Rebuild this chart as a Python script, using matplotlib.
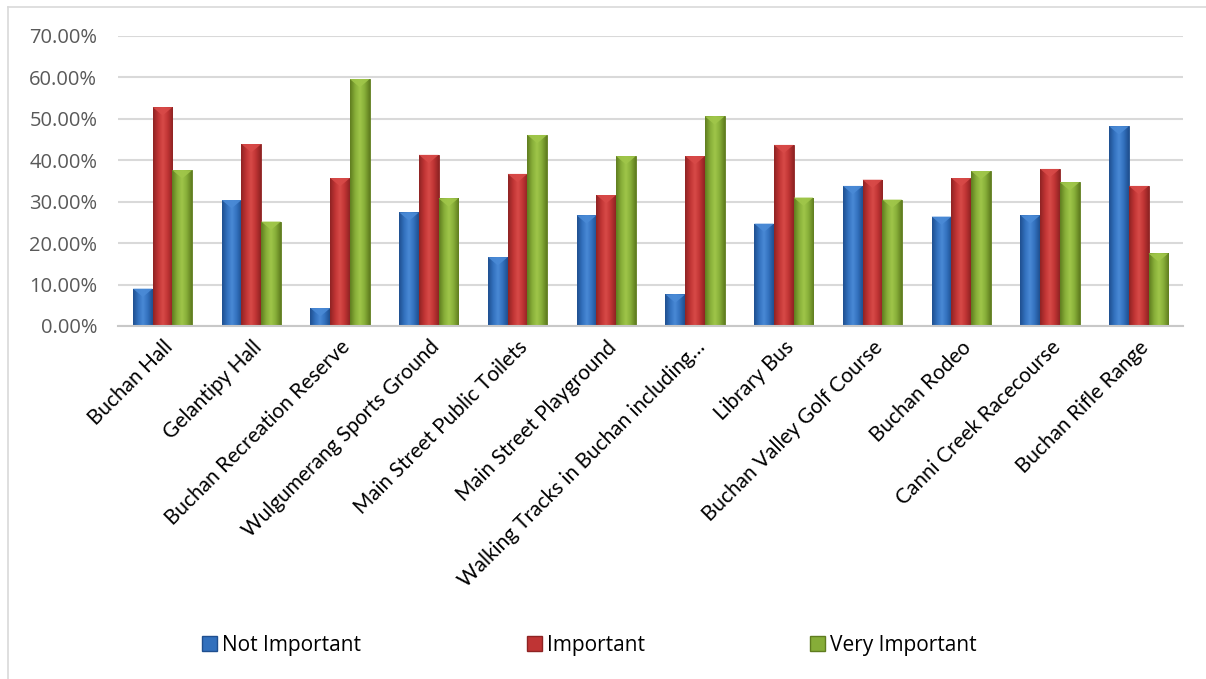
import numpy as np
import matplotlib
matplotlib.use('Agg')
import matplotlib.pyplot as plt
from matplotlib.colors import LinearSegmentedColormap
from matplotlib.ticker import PercentFormatter
from matplotlib.lines import Line2D

### Data
categories = ['Buchan Hall', 'Gelantipy Hall', 'Buchan Recreation Reserve', 'Wulgumerang Sports Ground',
              'Main Street Public Toilets', 'Main Street Playground', 'Walking Tracks in Buchan including\u2026',
              'Library Bus', 'Buchan Valley Golf Course', 'Buchan Rodeo', 'Canni Creek Racecourse', 'Buchan Rifle Range']
not_important = [9.0, 30.4, 4.3, 27.4, 16.6, 26.7, 7.6, 24.7, 33.8, 26.4, 26.7, 48.2]
important = [52.8, 43.9, 35.7, 41.3, 36.7, 31.6, 41.0, 43.7, 35.3, 35.7, 37.9, 33.8]
very_important = [37.6, 25.2, 59.6, 30.8, 46.1, 41.0, 50.6, 31.0, 30.5, 37.4, 34.7, 17.5]
series_names = ['Not Important', 'Important', 'Very Important']

# Colours: (dark edge, mid, light centre)
shades = {
	'Not Important': ('#1f4f8f', '#3270bd', '#4a8ad6'),
	'Important': ('#8e2323', '#bf3434', '#d84a48'),
	'Very Important': ('#5f7c1f', '#86ad38', '#a0c64a'),
}

plt.rcParams['font.family'] = ['Lato', 'DejaVu Sans']

fig = plt.figure(figsize=(12.06, 6.79), dpi=100)
ax = fig.add_axes([0.098, 0.52, 0.883, 0.427])

x = np.arange(len(categories))
width = 0.222
offsets = [-width, 0, width]
values = [not_important, important, very_important]

legend_handles = []
for name, vals, off in zip(series_names, values, offsets):
	dark, mid, light = shades[name]
	bars = ax.bar(x + off, vals, width, color=mid, edgecolor=dark, linewidth=0.6, zorder=2)
	# horizontal gradient inside each bar, clipped to the bar
	cmap = LinearSegmentedColormap.from_list(name, [dark, mid, light, mid, dark])
	grad = np.linspace(0, 1, 64).reshape(1, -1)
	for b in bars:
		bx, bw, bh = b.get_x(), b.get_width(), b.get_height()
		im = ax.imshow(grad, extent=[bx, bx + bw, 0, bh], cmap=cmap, aspect='auto', zorder=2.5,
					interpolation='bicubic')
		im.set_clip_path(b)
		# small bevel triangle on top
		tri_h = min(bh, 2.0)
		ax.fill([bx, bx + bw, bx + bw / 2], [bh, bh, bh - tri_h], color=light, alpha=0.9, zorder=3, lw=0)
	legend_handles.append(matplotlib.patches.Patch(facecolor=mid, edgecolor=dark, label=name))

ax.set_xlim(-0.5, len(categories) - 0.5)
ax.set_ylim(0, 70)
ax.set_yticks(np.arange(0, 71, 10))
ax.yaxis.set_major_formatter(PercentFormatter(decimals=2))
ax.yaxis.grid(True, color='#d9d9d9', linewidth=1.5, zorder=0)
ax.set_axisbelow(True)
for s in ['top', 'right', 'left']:
	ax.spines[s].set_visible(False)
ax.spines['bottom'].set_color('#c8c8c8')
ax.spines['bottom'].set_linewidth(1.5)
ax.tick_params(axis='both', length=0)
ax.tick_params(axis='y', pad=15, colors='#595959')
for lab in ax.get_yticklabels():
	lab.set_family(['Open Sans', 'DejaVu Sans'])
	lab.set_fontsize(14.5)
ax.set_xticks(x)
ax.set_xticklabels(categories, rotation=45, ha='right', rotation_mode='anchor', color='black', fontsize=15)
ax.tick_params(axis='x', pad=8)

# legend entries spread across the bottom like the original
legend_x = [202 / 1206, 527 / 1206, 810 / 1206]
for h, lx in zip(legend_handles, legend_x):
	fig.legend(handles=[h], loc='center left', bbox_to_anchor=(lx, 0.05), frameon=False,
			   prop={'family': ['Open Sans', 'DejaVu Sans'], 'size': 15}, borderpad=0, borderaxespad=0,
			   handlelength=0.7, handleheight=0.7, handletextpad=0.25)

# chart frame (top and left edges visible)
fig.add_artist(Line2D([8 / 1206, 1], [1 - 7 / 679, 1 - 7 / 679], color='#d9d9d9', lw=1.2))
fig.add_artist(Line2D([8 / 1206, 8 / 1206], [0, 1 - 7 / 679], color='#d9d9d9', lw=1.2))

plt.savefig('out.png', dpi=100)
